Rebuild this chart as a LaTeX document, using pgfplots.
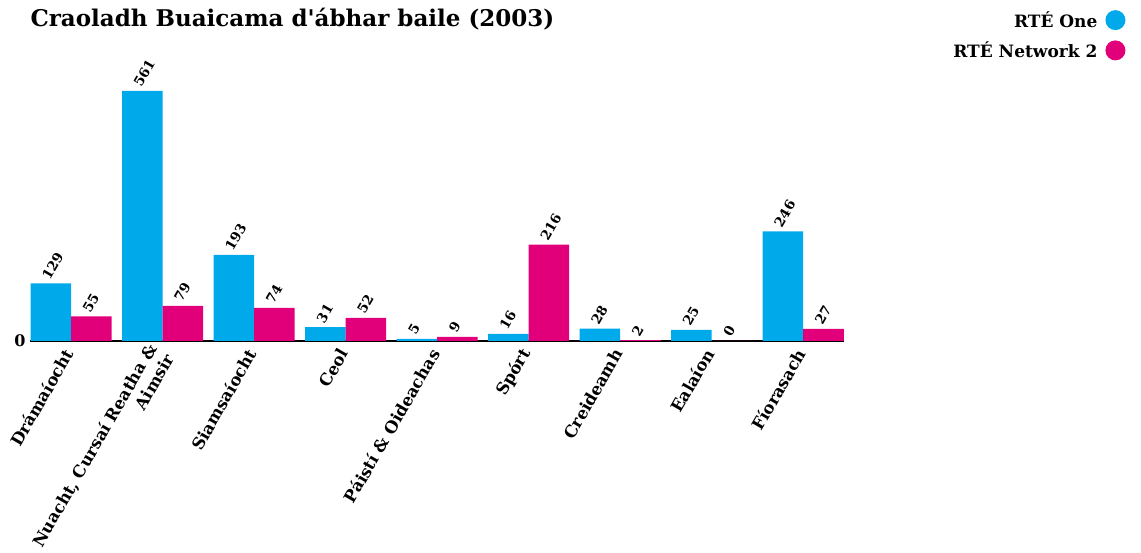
\documentclass[border=0pt]{standalone}
\usepackage{pgfplots}
\pgfplotsset{compat=1.18}
\usepackage{fontspec}
\setmainfont{DejaVu Serif}
\definecolor{blueC}{HTML}{00A9EA}
\definecolor{pinkC}{HTML}{E2007A}
\begin{document}
\begin{tikzpicture}[x=1pt,y=1pt]
\useasboundingbox (0,0) rectangle (1141,553);
\node[anchor=west,font=\fontsize{23}{27}\selectfont\bfseries] at (27,534) {Craoladh Buaicama d\textquotesingle ábhar baile (2003)};
\begin{axis}[
  at={(30pt,212pt)}, anchor=south west,
  scale only axis, width=814.4pt, height=267.6pt,
  xmin=-0.45, xmax=8.45, ymin=0, ymax=600,
  clip=false,
  axis lines*=left, axis line style={-},
  y axis line style={draw=none},
  x axis line style={black, line width=2.5pt},
  major tick length=0pt,
  ytick={0},
  yticklabel style={font=\fontsize{16}{18}\selectfont\bfseries, xshift=-1pt},
  xtick=data,
  xticklabels={Drámaíocht,{Nuacht, Cursaí Reatha \&\\Aimsir},Siamsaíocht,Ceol,Páistí \& Oideachas,Spórt,Creideamh,Ealaíon,Fíorasach},
  xticklabel style={rotate=60, anchor=east, align=right, font=\fontsize{16.5}{20}\selectfont\bfseries, inner sep=2pt, yshift=-3pt, xshift=-7pt},
  /pgf/number format/assume math mode=true,
  ybar, bar width=0.443, 
  nodes near coords,
  every node near coord/.append style={rotate=60, anchor=south west, font=\fontsize{13.5}{15}\selectfont\bfseries, inner sep=2pt},
  legend style={at={(1.349,1.247)}, anchor=north east, draw=none, fill=none,
    font=\fontsize{17}{20}\selectfont\bfseries, legend cell align=right, row sep=9pt},
  legend plot pos=right,
]
\addplot[fill=blueC, draw=none, bar shift=-0.2215,
  legend image code/.code={\path (0pt,0pt); \fill[blueC] (16pt,0pt) circle (10pt);}]
  coordinates {(0,129) (1,561) (2,193) (3,31) (4,5) (5,16) (6,28) (7,25) (8,246)};
\addlegendentry{RTÉ One}
\addplot[fill=pinkC, draw=none, bar shift=0.2215,
  legend image code/.code={\path (0pt,0pt); \fill[pinkC] (16pt,0pt) circle (10pt);}]
  coordinates {(0,55) (1,79) (2,74) (3,52) (4,9) (5,216) (6,2) (7,0) (8,27)};
\addlegendentry{RTÉ Network 2}
\end{axis}
\end{tikzpicture}
\end{document}
